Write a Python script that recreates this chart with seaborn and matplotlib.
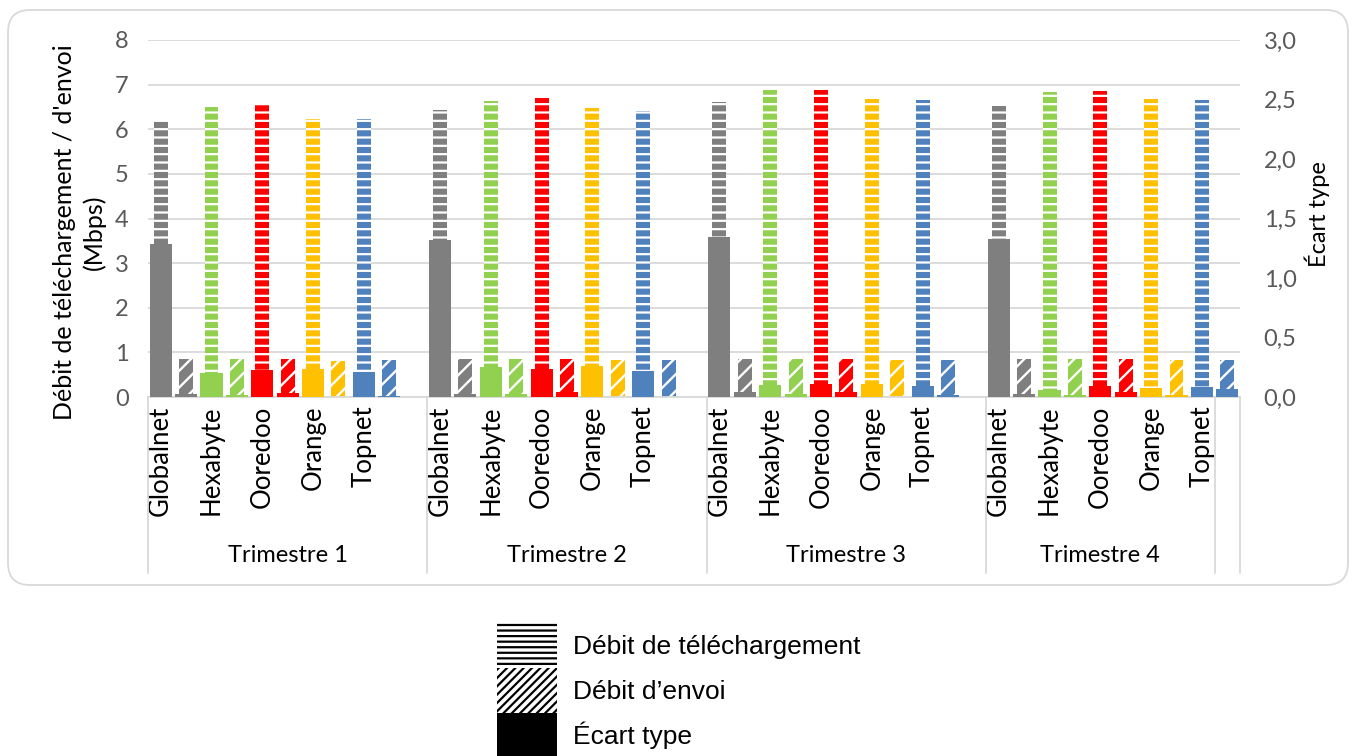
import numpy as np
import pandas as pd
import matplotlib
matplotlib.use("Agg")
import matplotlib.pyplot as plt
from matplotlib.patches import Patch, FancyBboxPatch
from matplotlib.transforms import IdentityTransform
import seaborn as sns

# ---- data -------------------------------------------------------------
quarters = ["Trimestre 1", "Trimestre 2", "Trimestre 3", "Trimestre 4"]
operators = ["Globalnet", "Hexabyte", "Ooredoo", "Orange", "Topnet"]
operator_colors = ["#7F7F7F", "#92D050", "#FF0000", "#FFC000", "#4F81BD"]

# download / upload throughput (Mbps), one row per quarter
download = [
    [6.21, 6.49, 6.57, 6.23, 6.23],
    [6.43, 6.64, 6.71, 6.48, 6.41],
    [6.62, 6.87, 6.88, 6.68, 6.66],
    [6.52, 6.84, 6.86, 6.68, 6.66],
]
upload = [
    [0.85, 0.85, 0.85, 0.81, 0.83],
    [0.85, 0.85, 0.85, 0.83, 0.83],
    [0.85, 0.85, 0.85, 0.83, 0.83],
    [0.85, 0.85, 0.85, 0.83, 0.83],
]
# standard deviation (secondary axis)
std_download = [
    [1.285, 0.204, 0.227, 0.238, 0.213],
    [1.320, 0.255, 0.238, 0.263, 0.221],
    [1.347, 0.104, 0.112, 0.112, 0.095],
    [1.328, 0.061, 0.095, 0.078, 0.087],
]
std_upload = [
    [0.025, 0.017, 0.034, 0.000, 0.012],
    [0.025, 0.025, 0.042, 0.000, 0.000],
    [0.045, 0.028, 0.045, 0.000, 0.020],
    [0.028, 0.020, 0.045, 0.020, 0.070],
]

# rows of the category axis used by each quarter block, plus an unlabeled tail row
quarter_rows = [11, 11, 11, 9]
trailing_rows = 1

series_labels = ["Débit de téléchargement", "Débit d\u2019envoi", "Écart type"]

# ---- layout of the category axis -------------------------------------
starts = np.concatenate([[0], np.cumsum(quarter_rows)[:-1]])
n_rows = int(np.sum(quarter_rows) + trailing_rows)
boundaries = list(np.concatenate([[0], np.cumsum(quarter_rows)]) - 0.5) + [n_rows - 0.5]

records = []
for q, quarter in enumerate(quarters):
    for i, op in enumerate(operators):
        pos_dl = starts[q] + 2 * i
        records.append(dict(quarter=quarter, operator=op,
                            pos_dl=pos_dl, pos_up=pos_dl + 1,
                            download=download[q][i], upload=upload[q][i],
                            std_dl=std_download[q][i], std_up=std_upload[q][i]))
df = pd.DataFrame(records)
std_long = pd.concat([
    df[["operator", "pos_dl", "std_dl"]].rename(columns={"pos_dl": "pos", "std_dl": "std"}),
    df[["operator", "pos_up", "std_up"]].rename(columns={"pos_up": "pos", "std_up": "std"}),
], ignore_index=True)

palette = dict(zip(operators, operator_colors))

# ---- styling ----------------------------------------------------------
sns.set_theme(style="white")
plt.rcParams["font.family"] = ["Lato", "DejaVu Sans"]
plt.rcParams["hatch.linewidth"] = 1.6

W, H = 1356, 756
fig = plt.figure(figsize=(W / 100, H / 100), dpi=100)
fig.patch.set_facecolor("white")
ax = fig.add_axes([148 / W, 1 - 397 / H, (1240 - 148) / W, (397 - 40) / H])

FS_TICK = 17
FS_CAT = 18.5
FS_TITLE = 18
GRID = "#D9D9D9"
TICK = "#595959"


def style_new_bars(axis, n_before, hatch, hatch_lw):
    for p in axis.patches[n_before:]:
        p.set_edgecolor("white")
        p.set_linewidth(0)
        if hatch:
            p.set_hatch(hatch)
            if hasattr(p, "set_hatch_linewidth"):
                p.set_hatch_linewidth(hatch_lw)


# download bars (horizontal stripes)
n0 = len(ax.patches)
sns.barplot(data=df, x="pos_dl", y="download", hue="operator", palette=palette,
            native_scale=True, dodge=False, width=0.55 / 2, errorbar=None,
            saturation=1, legend=False, orient="x", ax=ax)
style_new_bars(ax, n0, "--", 1.6)

# upload bars (diagonal stripes)
n0 = len(ax.patches)
sns.barplot(data=df, x="pos_up", y="upload", hue="operator", palette=palette,
            native_scale=True, dodge=False, width=0.55 / 2, errorbar=None,
            saturation=1, legend=False, orient="x", ax=ax)
style_new_bars(ax, n0, "//", 1.7)

# standard deviation on the secondary axis (solid)
ax2 = ax.twinx()
n0 = len(ax2.patches)
sns.barplot(data=std_long, x="pos", y="std", hue="operator", palette=palette,
            native_scale=True, dodge=False, width=0.87, errorbar=None,
            saturation=1, legend=False, orient="x", ax=ax2)
style_new_bars(ax2, n0, None, 0)

# ---- axes -------------------------------------------------------------
ax.set_xlim(-0.5, n_rows - 0.5)
ax.set_ylim(0, 8)
ax2.set_ylim(0, 3)

ax.set_yticks(range(0, 9))
ax.set_yticklabels([str(v) for v in range(0, 9)])
ax2.set_yticks(np.arange(0, 3.01, 0.5))
ax2.set_yticklabels([f"{v:.1f}".replace(".", ",") for v in np.arange(0, 3.01, 0.5)])
ax.tick_params(axis="y", length=0, pad=14, labelsize=FS_TICK, labelcolor=TICK)
ax2.tick_params(axis="y", length=0, pad=17, labelsize=FS_TICK, labelcolor=TICK)

ax.set_xticks(df["pos_dl"].values)
ax.set_xticklabels(df["operator"].values, rotation=90, fontsize=FS_CAT, color="black")
ax.tick_params(axis="x", length=0, pad=6)

ax.grid(axis="y", color=GRID, linewidth=1.3)
ax.grid(axis="x", visible=False)
ax2.grid(False)
ax.set_axisbelow(True)

for s in ["top", "left", "right"]:
    ax.spines[s].set_visible(False)
for s in ax2.spines.values():
    s.set_visible(False)
ax.spines["bottom"].set_color(GRID)
ax.spines["bottom"].set_linewidth(1.3)

ax.set_xlabel("")
ax2.set_xlabel("")
ax.set_ylabel("Débit de téléchargement / d'envoi\n(Mbps)", fontsize=FS_TITLE, color="black",
              linespacing=1.3)
ax.yaxis.set_label_coords(-0.039, 0.462)
ax2.set_ylabel("Écart type", fontsize=17, color="black")
ax2.yaxis.set_label_coords(1.0595, 0.513)

# quarter group labels and separators below the axis
xt = ax.get_xaxis_transform()
for b in boundaries:
    ax.plot([b, b], [0, -0.493], transform=xt, clip_on=False, color=GRID, linewidth=1.3)
for q, quarter in enumerate(quarters):
    mid = (boundaries[q] + boundaries[q + 1]) / 2
    ax.text(mid, -0.443, quarter, transform=xt, ha="center", va="center",
            fontsize=FS_TICK, color="black")

# chart area frame
fig.patches.append(FancyBboxPatch((8, H - 585), W - 16, 585 - 10,
                                  boxstyle="round,pad=0,rounding_size=22",
                                  transform=IdentityTransform(), fill=False,
                                  edgecolor=GRID, linewidth=1.3))

# legend
handles = [
    Patch(facecolor="white", edgecolor="black", hatch="---", linewidth=0),
    Patch(facecolor="white", edgecolor="black", hatch="////", linewidth=0),
    Patch(facecolor="black", edgecolor="black", linewidth=0),
]
leg = fig.legend(handles, series_labels, loc="upper left",
                 bbox_to_anchor=(497 / W, 1 - 623 / H), frameon=False,
                 prop={"family": ["Liberation Sans", "DejaVu Sans"], "size": 19},
                 handlelength=2.28, handleheight=2.25, labelspacing=0,
                 handletextpad=0.6, borderpad=0, borderaxespad=0)
for t in leg.get_texts():
    t.set_color("black")

fig.savefig("out.png", dpi=100, facecolor="white")
